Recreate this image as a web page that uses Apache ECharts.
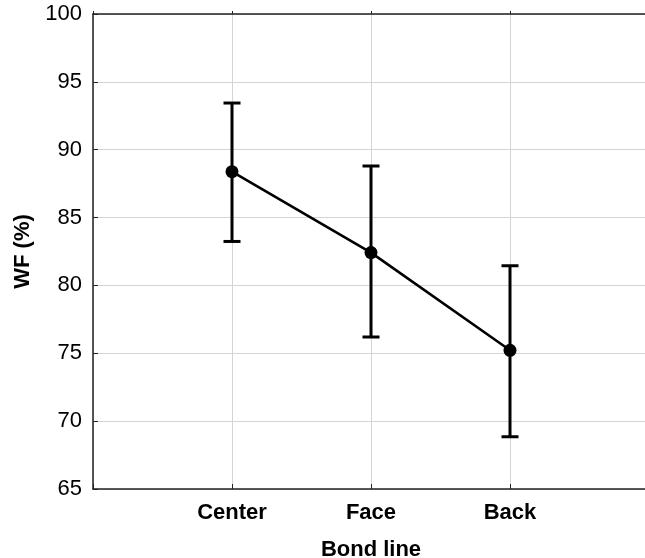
<!DOCTYPE html>
<html>
<head>
<meta charset="utf-8">
<script src="https://cdn.jsdelivr.net/npm/echarts@6/dist/echarts.min.js"></script>
<style>html,body{margin:0;padding:0;background:#fff;}#c{width:645px;height:558px;}</style>
</head>
<body>
<div id="c"></div>
<script>
const categories = ['Center', 'Face', 'Back'];
const means = [88.38, 82.42, 75.22];
const lower = [83.24, 76.2, 68.85];
const upper = [93.44, 88.8, 81.45];
const yTicks = { min: 65, max: 100, interval: 5 };
const xAxisName = 'Bond line';
const yAxisName = 'WF (%)';

const axisCats = [''].concat(categories).concat(['']);
const lineData = categories.map((c, i) => [i + 1, means[i]]);
const errData = categories.map((c, i) => [i + 1, lower[i], upper[i]]);

const font = '"Liberation Sans", Arial, sans-serif';
const chart = echarts.init(document.getElementById('c'), null, { renderer: 'canvas' });
chart.setOption({
  animation: false,
  backgroundColor: '#fff',
  grid: { left: 93, width: 556, top: 14, height: 475, containLabel: false, outerBoundsMode: 'none' },
  xAxis: [{
    type: 'category',
    data: axisCats,
    boundaryGap: false,
    position: 'bottom',
    name: xAxisName,
    nameLocation: 'middle',
    nameGap: 50,
    nameTextStyle: { fontFamily: font, fontSize: 22, fontWeight: 'bold', color: '#000' },
    axisLine: { show: true, lineStyle: { color: '#222', width: 1.5 } },
    axisTick: { show: true, inside: true, length: 5, alignWithLabel: true, interval: 0, lineStyle: { color: '#222', width: 1 } },
    axisLabel: { show: true, interval: 0, margin: 13, fontFamily: font, fontSize: 22, fontWeight: 'bold', color: '#000' },
    splitLine: { show: true, interval: 0, lineStyle: { color: '#d4d4d4', width: 1 } }
  }, {
    type: 'category',
    data: axisCats,
    boundaryGap: false,
    position: 'top',
    axisLine: { show: true, lineStyle: { color: '#222', width: 1.5 } },
    axisTick: { show: true, inside: false, length: 3, interval: 0, lineStyle: { color: '#222', width: 1 } },
    axisLabel: { show: false },
    splitLine: { show: false }
  }],
  yAxis: {
    type: 'value',
    min: yTicks.min,
    max: yTicks.max,
    interval: yTicks.interval,
    name: yAxisName,
    nameLocation: 'middle',
    nameGap: 53,
    nameRotate: 90,
    nameTextStyle: { fontFamily: font, fontSize: 22, fontWeight: 'bold', color: '#000' },
    axisLine: { show: true, lineStyle: { color: '#222', width: 1.5 } },
    axisTick: { show: true, inside: true, length: 5, lineStyle: { color: '#222', width: 1 } },
    axisLabel: { margin: 11, fontFamily: font, fontSize: 22, color: '#000' },
    splitLine: { show: true, lineStyle: { color: '#d4d4d4', width: 1 } }
  },
  series: [{
    type: 'custom',
    xAxisIndex: 0,
    data: errData,
    z: 3,
    renderItem: function (params, api) {
      const x = api.value(0);
      const lo = api.coord([x, api.value(1)]);
      const hi = api.coord([x, api.value(2)]);
      const hw = 8.5;
      const style = { stroke: '#000', lineWidth: 3, fill: null };
      return {
        type: 'group',
        children: [
          { type: 'line', shape: { x1: lo[0], y1: lo[1], x2: hi[0], y2: hi[1] }, style: style },
          { type: 'line', shape: { x1: lo[0] - hw, y1: lo[1], x2: lo[0] + hw, y2: lo[1] }, style: style },
          { type: 'line', shape: { x1: hi[0] - hw, y1: hi[1], x2: hi[0] + hw, y2: hi[1] }, style: style }
        ]
      };
    }
  }, {
    type: 'line',
    xAxisIndex: 0,
    data: lineData,
    z: 4,
    symbol: 'circle',
    symbolSize: 13,
    itemStyle: { color: '#000' },
    lineStyle: { color: '#000', width: 2.6 }
  }]
});
</script>
</body>
</html>
